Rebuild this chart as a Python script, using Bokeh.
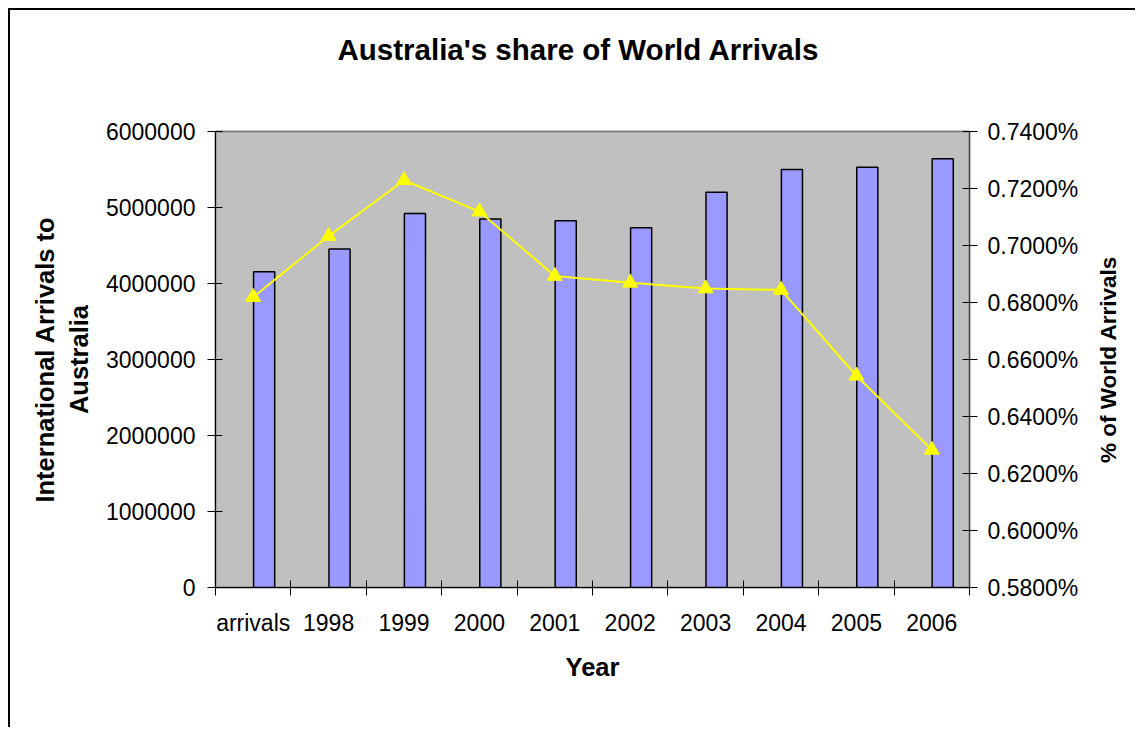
from bokeh.plotting import figure
from bokeh.layouts import row
from bokeh.models import (Range1d, LinearAxis, FixedTicker, SingleIntervalTicker,
                          NumeralTickFormatter, ColumnDataSource, Title)
from bokeh.transform import dodge
from bokeh.embed import file_html
from bokeh.resources import INLINE

categories = ["arrivals", "1998", "1999", "2000", "2001", "2002", "2003", "2004", "2005", "2006"]
arrivals = [4155000, 4455000, 4920000, 4850000, 4825000, 4735000, 5200000, 5500000, 5530000, 5640000]
world_share = [0.006819, 0.007033, 0.007229, 0.007119, 0.006893, 0.006869, 0.006849, 0.006844, 0.006543, 0.006283]
left_ticks = [0, 1000000, 2000000, 3000000, 4000000, 5000000, 6000000]
right_min, right_max = 0.0058, 0.0074
chart_title = "Australia's share of World Arrivals"
right_title = "% of World Arrivals"

FONT = "Liberation Sans"
HAS_STANDOFF = "standoff" in Title.properties()

n = len(categories)
centers = [i + 0.5 for i in range(n)]
src = ColumnDataSource(dict(x=centers, cat=categories, arrivals=arrivals, share=world_share))

p = figure(width=1085, height=719, output_backend="svg", toolbar_location=None,
           x_range=Range1d(0, n),
           y_range=Range1d(left_ticks[0], left_ticks[-1]),
           min_border_left=205, min_border_right=126, min_border_top=121, min_border_bottom=117,
           styles={"margin-left": "8px", "margin-top": "8px",
                   "border-left": "2px solid black", "border-top": "2px solid black"})

p.background_fill_color = "#C0C0C0"
p.border_fill_color = "white"
p.outline_line_color = "#808080"
p.outline_line_width = 2
p.xgrid.visible = False
p.ygrid.visible = False

# spacer title (closest to frame), then the real title above it
spacer = Title(text=" ", text_font_size="10px", text_font=FONT)
if HAS_STANDOFF:
    spacer.standoff = 53
p.add_layout(spacer, "above")

main_title = Title(text=chart_title, align="left", offset=122, text_font=FONT,
                   text_font_size="29.5px", text_font_style="bold", text_color="black")
if HAS_STANDOFF:
    main_title.standoff = 0
p.add_layout(main_title, "above")

p.extra_y_ranges = {"pct": Range1d(right_min, right_max)}

# bars (offset right of the category centre, as in the original)
p.vbar(x=dodge("x", 0.145), top="arrivals", width=0.28, source=src,
       fill_color="#9999FF", line_color="black", line_width=1.5)

# line with triangles
p.line(x="x", y="share", source=src, y_range_name="pct", line_color="#FFFF00", line_width=2)
p.scatter(x="x", y="share", source=src, y_range_name="pct", marker="triangle", size=15,
          fill_color="#FFFF00", line_color="#FFFF00")

# x axis: labels at centers, ticks at boundaries
xaxis = p.xaxis[0]
xaxis.ticker = FixedTicker(ticks=centers, minor_ticks=list(range(n + 1)))
xaxis.major_label_overrides = {c: lab for c, lab in zip(centers, categories)}
xaxis.axis_label = "Year"
xaxis.major_tick_line_color = None
xaxis.minor_tick_in = 7
xaxis.minor_tick_out = 8
xaxis.minor_tick_line_color = "black"
xaxis.axis_line_color = "black"
xaxis.major_label_standoff = 14
xaxis.major_label_text_font = FONT
xaxis.major_label_text_font_size = "23px"
xaxis.major_label_text_color = "black"
xaxis.axis_label_text_font = FONT
xaxis.axis_label_text_font_size = "25.5px"
xaxis.axis_label_text_font_style = "bold"
xaxis.axis_label_text_color = "black"
xaxis.axis_label_standoff = 14

# left axis
ya = p.yaxis[0]
ya.ticker = FixedTicker(ticks=left_ticks)
ya.formatter = NumeralTickFormatter(format="0")
ya.axis_label = "International Arrivals to\nAustralia"
ya.major_tick_in = 7
ya.major_tick_out = 8
ya.minor_tick_line_color = None
ya.axis_line_color = "black"
ya.major_tick_line_color = "black"
ya.major_label_standoff = 12
ya.major_label_text_font = FONT
ya.major_label_text_font_size = "23px"
ya.major_label_text_color = "black"
ya.axis_label_text_font = FONT
ya.axis_label_text_font_size = "25.5px"
ya.axis_label_text_font_style = "bold"
ya.axis_label_text_color = "black"
ya.axis_label_standoff = 10

# right axis with ticks and labels
yr = LinearAxis(y_range_name="pct", ticker=SingleIntervalTicker(interval=0.0002, num_minor_ticks=0),
                formatter=NumeralTickFormatter(format="0.0000%"))
yr.major_tick_in = 7
yr.major_tick_out = 8
yr.minor_tick_line_color = None
yr.axis_line_color = "#404040"
yr.major_tick_line_color = "black"
yr.major_label_standoff = 10
yr.major_label_text_font = FONT
yr.major_label_text_font_size = "23px"
yr.major_label_text_color = "black"
p.add_layout(yr, "right")

# narrow companion canvas carrying the right-hand title, reading bottom-to-top
p2 = figure(width=42, height=719, output_backend="svg", toolbar_location=None,
            x_axis_location=None, y_axis_location=None,
            min_border_left=0, min_border_right=0, min_border_top=121, min_border_bottom=142,
            styles={"margin-top": "8px", "border-top": "2px solid black"})
p2.outline_line_color = None
p2.background_fill_color = "white"
p2.border_fill_color = "white"
p2.grid.visible = False
side_title = Title(text=right_title, align="center", text_font=FONT, text_font_size="22.5px",
                   text_font_style="bold", text_color="black")
if HAS_STANDOFF:
    side_title.standoff = 0
p2.add_layout(side_title, "left")

layout = row(p, p2, spacing=0)
open("out.html", "w").write(file_html(layout, INLINE))
